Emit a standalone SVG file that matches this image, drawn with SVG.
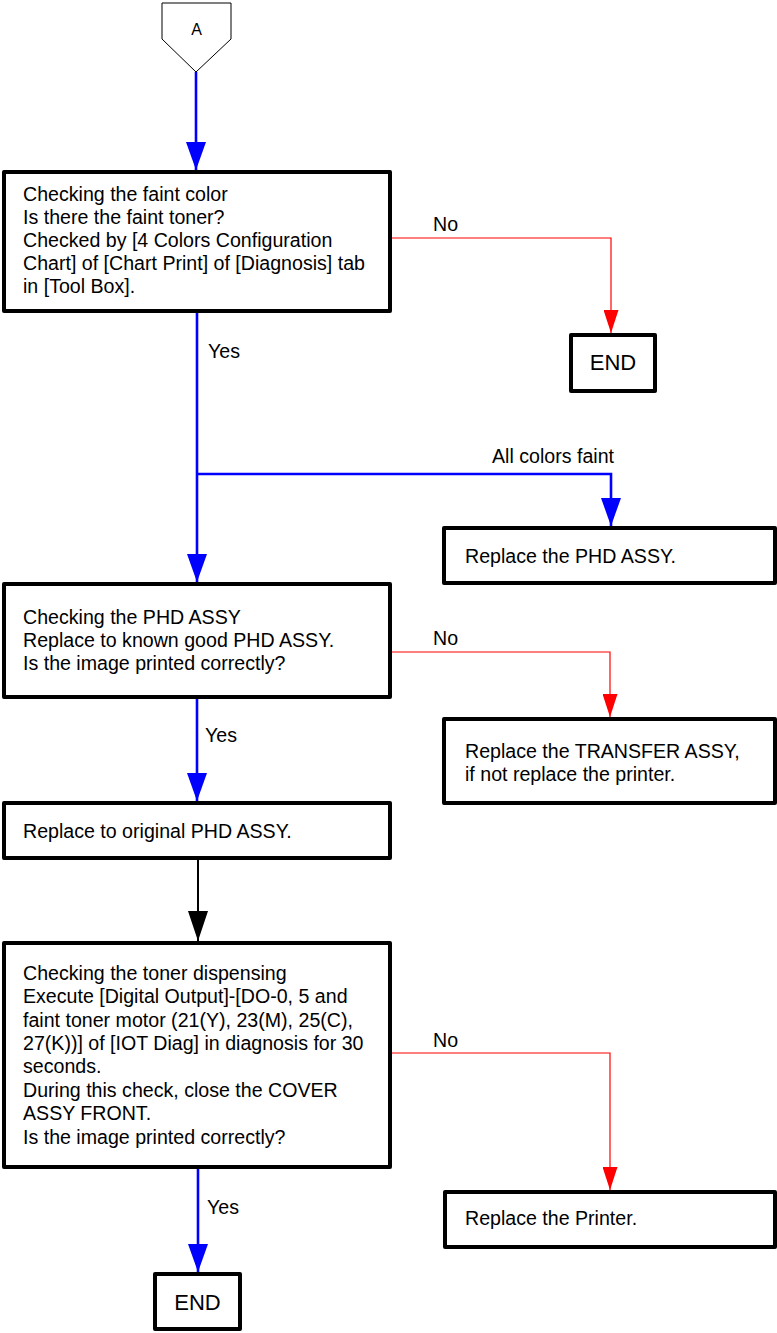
<svg xmlns="http://www.w3.org/2000/svg" width="777" height="1333" viewBox="0 0 777 1333">
<style>
.box{fill:#fff;stroke:#000;stroke-width:4;stroke-linejoin:round}
.t{font-family:"Liberation Sans",Arial,sans-serif;font-size:19.6px;fill:#000}
.e{font-family:"Liberation Sans",Arial,sans-serif;font-size:22px;fill:#000;text-anchor:middle}
.blue{fill:none;stroke:#0000ff;stroke-width:2.6}
.red{fill:none;stroke:#ff0000;stroke-width:1.2}
.black{fill:none;stroke:#000;stroke-width:2}
</style>
<defs>
<marker id="ab" markerUnits="userSpaceOnUse" viewBox="0 0 28 20" refX="28" refY="10" markerWidth="28" markerHeight="20" orient="auto"><path d="M0,0L28,10L0,20z" fill="#0000ff"/></marker>
<marker id="ar" markerUnits="userSpaceOnUse" viewBox="0 0 23 15" refX="23" refY="7.5" markerWidth="23" markerHeight="15" orient="auto"><path d="M0,0L23,7.5L0,15z" fill="#ff0000"/></marker>
<marker id="ak" markerUnits="userSpaceOnUse" viewBox="0 0 30 20" refX="30" refY="10" markerWidth="30" markerHeight="20" orient="auto"><path d="M0,0L30,10L0,20z" fill="#000"/></marker>
</defs>
<g id="connectors">
<path class="blue" d="M196,72V170" marker-end="url(#ab)"/>
<path class="red" d="M390,238H611V333" marker-end="url(#ar)"/>
<path class="blue" d="M197,313V582" marker-end="url(#ab)"/>
<path class="blue" d="M197,474H611V526" marker-end="url(#ab)"/>
<path class="red" d="M390,652H610V717" marker-end="url(#ar)"/>
<path class="blue" d="M197,697V801" marker-end="url(#ab)"/>
<path class="black" d="M198,858V941" marker-end="url(#ak)"/>
<path class="red" d="M390,1053H610V1190" marker-end="url(#ar)"/>
<path class="blue" d="M198,1167V1272" marker-end="url(#ab)"/>
<text class="t" x="433" y="231">No</text>
<text class="t" x="208" y="358">Yes</text>
<text class="t" x="614" y="463" text-anchor="end">All colors faint</text>
<text class="t" x="433" y="645">No</text>
<text class="t" x="205" y="742">Yes</text>
<text class="t" x="433" y="1047">No</text>
<text class="t" x="207" y="1214">Yes</text>
</g>
<g id="connA">
<path d="M162,3H231V39L196,72L162,39Z" fill="#fff" stroke="#000" stroke-width="1"/>
<text x="196.5" y="35" font-family="Liberation Sans,Arial,sans-serif" font-size="16" text-anchor="middle">A</text>
</g>
<g id="check-faint">
<rect class="box" x="4" y="172" width="386" height="139"/>
<text class="t"><tspan x="23" y="201">Checking the faint color</tspan><tspan x="23" y="224">Is there the faint toner?</tspan><tspan x="23" y="247">Checked by [4 Colors Configuration</tspan><tspan x="23" y="270">Chart] of [Chart Print] of [Diagnosis] tab</tspan><tspan x="23" y="293">in [Tool Box].</tspan></text>
</g>
<g id="end1">
<rect class="box" x="571" y="335" width="84" height="56"/>
<text class="e" x="613" y="370">END</text>
</g>
<g id="replace-phd">
<rect class="box" x="444" y="528" width="331" height="55"/>
<text class="t" x="465" y="563">Replace the PHD ASSY.</text>
</g>
<g id="check-phd">
<rect class="box" x="4" y="584" width="386" height="113"/>
<text class="t"><tspan x="23" y="623.5">Checking the PHD ASSY</tspan><tspan x="23" y="646.5">Replace to known good PHD ASSY.</tspan><tspan x="23" y="669.5">Is the image printed correctly?</tspan></text>
</g>
<g id="replace-transfer">
<rect class="box" x="444" y="719" width="331" height="84"/>
<text class="t"><tspan x="465" y="758">Replace the TRANSFER ASSY,</tspan><tspan x="465" y="781">if not replace the printer.</tspan></text>
</g>
<g id="replace-original">
<rect class="box" x="4" y="803" width="386" height="55"/>
<text class="t" x="23" y="837.5">Replace to original PHD ASSY.</text>
</g>
<g id="check-toner">
<rect class="box" x="4" y="943" width="386" height="224"/>
<text class="t"><tspan x="23" y="979.5">Checking the toner dispensing</tspan><tspan x="23" y="1003">Execute [Digital Output]-[DO-0, 5 and</tspan><tspan x="23" y="1026.5">faint toner motor (21(Y), 23(M), 25(C),</tspan><tspan x="23" y="1050">27(K))] of [IOT Diag] in diagnosis for 30</tspan><tspan x="23" y="1073">seconds.</tspan><tspan x="23" y="1096.5">During this check, close the COVER</tspan><tspan x="23" y="1120">ASSY FRONT.</tspan><tspan x="23" y="1143.5">Is the image printed correctly?</tspan></text>
</g>
<g id="replace-printer">
<rect class="box" x="445" y="1192" width="330" height="55"/>
<text class="t" x="465" y="1225">Replace the Printer.</text>
</g>
<g id="end2">
<rect class="box" x="155" y="1274" width="85" height="55"/>
<text class="e" x="197.5" y="1310">END</text>
</g>
</svg>
